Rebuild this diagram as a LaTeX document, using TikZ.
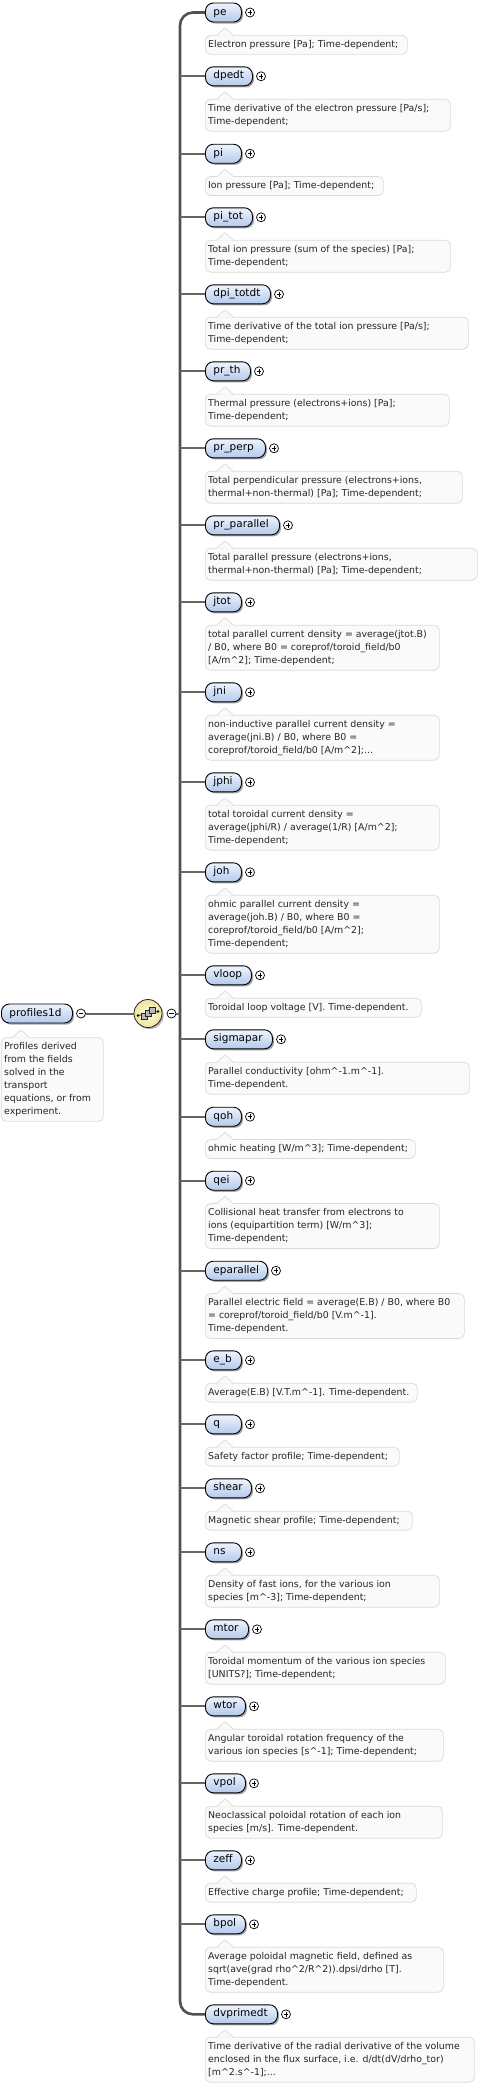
\documentclass[tikz,border=0pt]{standalone}
\usepackage{fontspec}
\setmainfont{DejaVu Sans}
\usetikzlibrary{shadows}
\definecolor{busc}{HTML}{505050}
\definecolor{brc}{HTML}{666666}
\definecolor{eltop}{HTML}{EEF4FD}
\definecolor{elbot}{HTML}{B3C9EC}
\definecolor{dfill}{HTML}{FAFAFA}
\definecolor{dline}{HTML}{DADADA}
\definecolor{seqtop}{HTML}{FFFDE6}
\definecolor{seqbot}{HTML}{EFE39C}
\newcommand\crt{\textasciicircum}
\tikzset{
 elbox/.style={draw=black, line width=0.9pt, rounded corners=8pt, top color=eltop, bottom color=elbot,
   minimum height=19pt, inner xsep=8pt, inner ysep=0pt, anchor=west, text height=7.6pt, text depth=2.4pt,
   font=\fontsize{10.5}{12}\selectfont,
   drop shadow={shadow xshift=1.6pt, shadow yshift=-1.6pt, fill=black, opacity=0.35}},
 descbox/.style={draw=dline, fill=dfill, rounded corners=5pt, anchor=north west, inner sep=0pt, line width=0.7pt},
 desctext/.style={anchor=north west, align=left, inner sep=0pt, font=\fontsize{9.4}{13}\selectfont, text=black!85},
 pluscirc/.style={circle, draw=black, fill=white, line width=0.7pt, minimum size=9pt, inner sep=0pt,
   path picture={\draw[line width=0.7pt] ([xshift=-2.3pt]path picture bounding box.center) -- ([xshift=2.3pt]path picture bounding box.center)
     ([yshift=-2.3pt]path picture bounding box.center) -- ([yshift=2.3pt]path picture bounding box.center);}},
 minuscirc/.style={circle, draw=black, fill=white, line width=0.7pt, minimum size=9pt, inner sep=0pt,
   path picture={\draw[line width=0.7pt] ([xshift=-2.3pt]path picture bounding box.center) -- ([xshift=2.3pt]path picture bounding box.center);}},
 seqicon/.style={circle, draw=black!85, line width=0.8pt, minimum size=28pt, inner sep=0pt,
   inner color=seqtop, outer color=seqbot,
   drop shadow={shadow xshift=1.6pt, shadow yshift=-1.6pt, fill=black, opacity=0.3},
   path picture={
     \draw[line width=0.8pt] ([shift={(-10pt,-2pt)}]path picture bounding box.center) -- ([shift={(10pt,2pt)}]path picture bounding box.center);
     \fill ([shift={(-10pt,-2pt)}]path picture bounding box.center) circle (1.4pt);
     \fill ([shift={(10pt,2pt)}]path picture bounding box.center) circle (1.4pt);
     \draw[fill=gray!55, line width=0.5pt] ([shift={(-7pt,-6pt)}]path picture bounding box.center) rectangle +(6pt,6pt);
     \draw[fill=gray!55, line width=0.5pt] ([shift={(-3pt,-3pt)}]path picture bounding box.center) rectangle +(6pt,6pt);
     \draw[fill=gray!55, line width=0.5pt] ([shift={(1pt,0pt)}]path picture bounding box.center) rectangle +(6pt,6pt);
   }},
 bus/.style={draw=busc, line width=2.6pt},
 branch/.style={draw=brc, line width=2pt},
}
\newcommand\notch[1]{%
 \fill[dfill] ([xshift=12pt,yshift=-0.7pt]#1.north west) -- ([xshift=20pt,yshift=7pt]#1.north west) -- ([xshift=28pt,yshift=-0.7pt]#1.north west) -- cycle;
 \draw[dline, line width=0.7pt, line join=round] ([xshift=12pt]#1.north west) -- ([xshift=20pt,yshift=7pt]#1.north west) -- ([xshift=28pt]#1.north west);
}
\newcommand\elrow[7]{%
 \pgfmathsetmacro\myEW{#4-205}%
 \pgfmathsetmacro\myETW{#4-205-16}%
 \pgfmathsetmacro\myDW{#5-205}%
 \pgfmathsetmacro\myDH{19+13*(#6-1)}%
 \pgfmathsetmacro\myDT{#2+22.5}%
 \coordinate (b#1) at (180,#2);
 \node[elbox, minimum width=\myEW pt, text width=\myETW pt] (e#1) at (205,#2) {\mbox{#3}};
 \node[pluscirc] (p#1) at (#4+9,#2) {};
 \node[descbox, minimum width=\myDW pt, minimum height=\myDH pt] (d#1) at (205,\myDT) {};
 \notch{d#1}
 \node[desctext] (t#1) at (208,\myDT+3) {\rule{0pt}{9pt}#7};
}
\begin{document}
\begin{tikzpicture}[x=1pt,y=-1pt]
\path[fill=white, use as bounding box] (0,0) rectangle (500,2086);

\elrow{1}{12.5}{pe}{241}{407}{1}{Electron pressure [Pa]; Time-dependent;}
\elrow{2}{76.3}{dpedt}{252}{450}{2}{Time derivative of the electron pressure [Pa/s];\\Time-dependent;}
\elrow{3}{153.7}{pi}{241}{383}{1}{Ion pressure [Pa]; Time-dependent;}
\elrow{4}{217.3}{pi\_tot}{252}{450}{2}{Total ion pressure (sum of the species) [Pa];\\Time-dependent;}
\elrow{5}{294.3}{dpi\_totdt}{270}{468}{2}{Time derivative of the total ion pressure [Pa/s];\\Time-dependent;}
\elrow{6}{371.3}{pr\_th}{250}{449}{2}{Thermal pressure (electrons+ions) [Pa];\\Time-dependent;}
\elrow{7}{448.3}{pr\_perp}{265}{462}{2}{Total perpendicular pressure (electrons+ions,\\thermal+non-thermal) [Pa]; Time-dependent;}
\elrow{8}{525.3}{pr\_parallel}{279}{477}{2}{Total parallel pressure (electrons+ions,\\thermal+non-thermal) [Pa]; Time-dependent;}
\elrow{9}{602.3}{jtot}{241}{439}{3}{total parallel current density = average(jtot.B)\\/ B0, where B0 = coreprof/toroid\_field/b0\\{}[A/m\crt2]; Time-dependent;}
\elrow{10}{692.3}{jni}{241}{439}{3}{non-inductive parallel current density =\\average(jni.B) / B0, where B0 =\\coreprof/toroid\_field/b0 [A/m\crt2];...}
\elrow{11}{782.3}{jphi}{241}{439}{3}{total toroidal current density =\\average(jphi/R) / average(1/R) [A/m\crt2];\\Time-dependent;}
\elrow{12}{872.3}{joh}{241}{439}{4}{ohmic parallel current density =\\average(joh.B) / B0, where B0 =\\coreprof/toroid\_field/b0 [A/m\crt2];\\Time-dependent;}
\elrow{13}{975.3}{vloop}{251}{421}{1}{Toroidal loop voltage [V]. Time-dependent.}
\elrow{14}{1039.3}{sigmapar}{272}{469}{2}{Parallel conductivity [ohm\crt-1.m\crt-1].\\Time-dependent.}
\elrow{15}{1116.7}{qoh}{241}{415}{1}{ohmic heating [W/m\crt3]; Time-dependent;}
\elrow{16}{1180.7}{qei}{241}{439}{3}{Collisional heat transfer from electrons to\\ions (equipartition term) [W/m\crt3];\\Time-dependent;}
\elrow{17}{1270.7}{eparallel}{267}{464}{3}{Parallel electric field = average(E.B) / B0, where B0\\= coreprof/toroid\_field/b0 [V.m\crt-1].\\Time-dependent.}
\elrow{18}{1360.3}{e\_b}{241}{417}{1}{Average(E.B) [V.T.m\crt-1]. Time-dependent.}
\elrow{19}{1424.3}{q}{241}{399}{1}{Safety factor profile; Time-dependent;}
\elrow{20}{1488.3}{shear}{251}{412}{1}{Magnetic shear profile; Time-dependent;}
\elrow{21}{1552.3}{ns}{241}{439}{2}{Density of fast ions, for the various ion\\species [m\crt-3]; Time-dependent;}
\elrow{22}{1629.3}{mtor}{248}{445}{2}{Toroidal momentum of the various ion species\\{}[UNITS?]; Time-dependent;}
\elrow{23}{1706.3}{wtor}{245}{443}{2}{Angular toroidal rotation frequency of the\\various ion species [s\crt-1]; Time-dependent;}
\elrow{24}{1783.3}{vpol}{245}{442}{2}{Neoclassical poloidal rotation of each ion\\species [m/s]. Time-dependent.}
\elrow{25}{1860.3}{zeff}{241}{416}{1}{Effective charge profile; Time-dependent;}
\elrow{26}{1924.3}{bpol}{245}{443}{3}{Average poloidal magnetic field, defined as\\sqrt(ave(grad rho\crt2/R\crt2)).dpsi/drho [T].\\Time-dependent.}
\elrow{27}{2014.3}{dvprimedt}{277}{474}{3}{Time derivative of the radial derivative of the volume\\enclosed in the flux surface, i.e. d/dt(dV/drho\_tor)\\{}[m\crt2.s\crt-1];...}

% bus and branches
\draw[bus, rounded corners=13pt] (e1.west) -| (b27) -- (e27.west);
\foreach \k in {2,...,26} { \draw[branch] (b\k) -- (e\k.west); }

% root element
\node[elbox, minimum width=71pt, text width=55pt] (root) at (1,1013.5) {\mbox{profiles1d}};
\node[minuscirc] (rm) at (81,1013.5) {};
\node[seqicon] (seq) at (148,1013.5) {};
\node[minuscirc] (sm) at (171.5,1013.5) {};
\coordinate (bj) at (180,1013.5);
\draw[branch] (rm.east) -- (seq.west);
\draw[branch] (sm.east) -- (bj);
\node[descbox, minimum width=102pt, minimum height=84pt] (rd) at (1,1037) {};
\notch{rd}
\node[desctext] (rt) at (4,1040) {\rule{0pt}{9pt}Profiles derived\\from the fields\\solved in the\\transport\\equations, or from\\experiment.};
\end{tikzpicture}
\end{document}
